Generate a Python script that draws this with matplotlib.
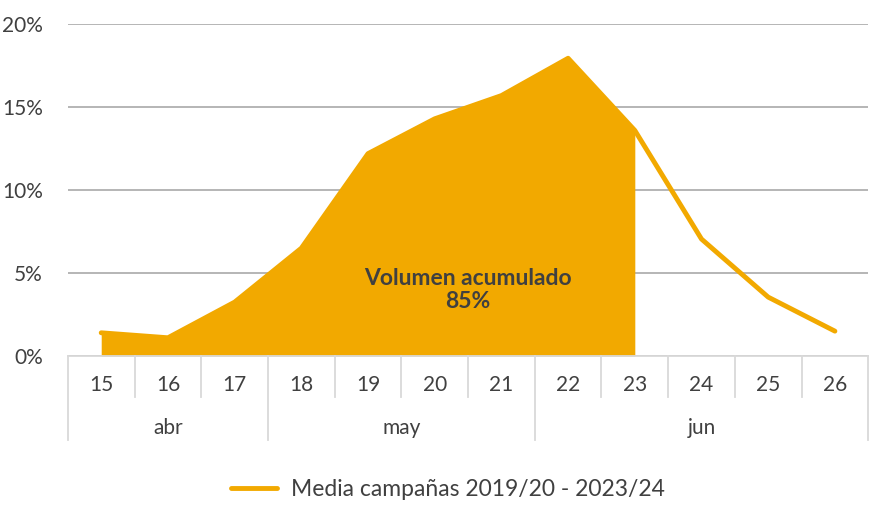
import matplotlib.pyplot as plt
import matplotlib.transforms as mtransforms
from matplotlib.ticker import FuncFormatter

plt.rcParams['font.family'] = ['Lato', 'DejaVu Sans']

# datos
semanas = ['15', '16', '17', '18', '19', '20', '21', '22', '23', '24', '25', '26']
meses = ['abr', 'may', 'jun']
semanas_por_mes = [3, 4, 5]
media = [1.4, 1.1, 3.25, 6.5, 12.2, 14.3, 15.7, 17.95, 13.6, 7.05, 3.55, 1.5]
ultima_acumulada = 8  # indice de la semana 23
texto_acumulado = 'Volumen acumulado\n85%'
etiqueta = 'Media campañas 2019/20 - 2023/24'

NARANJA = '#F2A900'
GRIS_TXT = '#404040'
GRIS_EJE = '#D9D9D9'

fig = plt.figure(figsize=(8.7, 5.05), dpi=100)
ax = fig.add_axes([0.078, 0.295, 0.92, 0.657])

x = list(range(len(semanas)))
ax.fill_between(x[:ultima_acumulada + 1], media[:ultima_acumulada + 1], 0,
                color=NARANJA, lw=0, zorder=2)
ax.plot(x, media, color=NARANJA, lw=3.5, solid_capstyle='round', zorder=3,
        label=etiqueta)

ax.set_xlim(-0.5, len(semanas) - 0.5)
ax.set_ylim(0, 20)
ax.set_yticks([0, 5, 10, 15, 20])
ax.yaxis.set_major_formatter(FuncFormatter(lambda v, p: '%d%%' % v))
ax.grid(axis='y', color='#B0B0B0', lw=1.3, zorder=1)
ax.tick_params(axis='y', length=0, pad=18, labelsize=15, labelcolor=GRIS_TXT)
for s in ax.spines.values():
    s.set_visible(False)

# eje de categorias en dos niveles
ax.set_xticks([])
trans = mtransforms.blended_transform_factory(ax.transData, ax.transAxes)
ax.plot([-0.5, len(semanas) - 0.5], [0, 0], color=GRIS_EJE, lw=1.3,
        transform=trans, clip_on=False, zorder=4)
for i, s in enumerate(semanas):
    ax.text(i, -0.087, s, transform=trans, ha='center', va='center',
            fontsize=15, color=GRIS_TXT)
inicio = 0
limites = [-0.5]
for m, n in zip(meses, semanas_por_mes):
    ax.text(inicio + (n - 1) / 2, -0.217, m, transform=trans, ha='center',
            va='center', fontsize=15, color=GRIS_TXT)
    inicio += n
    limites.append(inicio - 0.5)
for b in range(len(semanas) + 1):
    xb = b - 0.5
    y_fin = -0.253 if xb in limites else -0.123
    ax.plot([xb, xb], [0, y_fin], color=GRIS_EJE, lw=1.3, transform=trans,
            clip_on=False)

ax.text(5.5, 4.0, texto_acumulado, ha='center', va='center', fontsize=16.5,
        fontweight='bold', color=GRIS_TXT, zorder=5, linespacing=1.1)

fig.legend(loc='center', bbox_to_anchor=(0.515, 0.03), frameon=False,
           fontsize=16.5, handlelength=2.0, handletextpad=0.6,
           labelcolor=GRIS_TXT)

fig.savefig('out.png', dpi=100)
